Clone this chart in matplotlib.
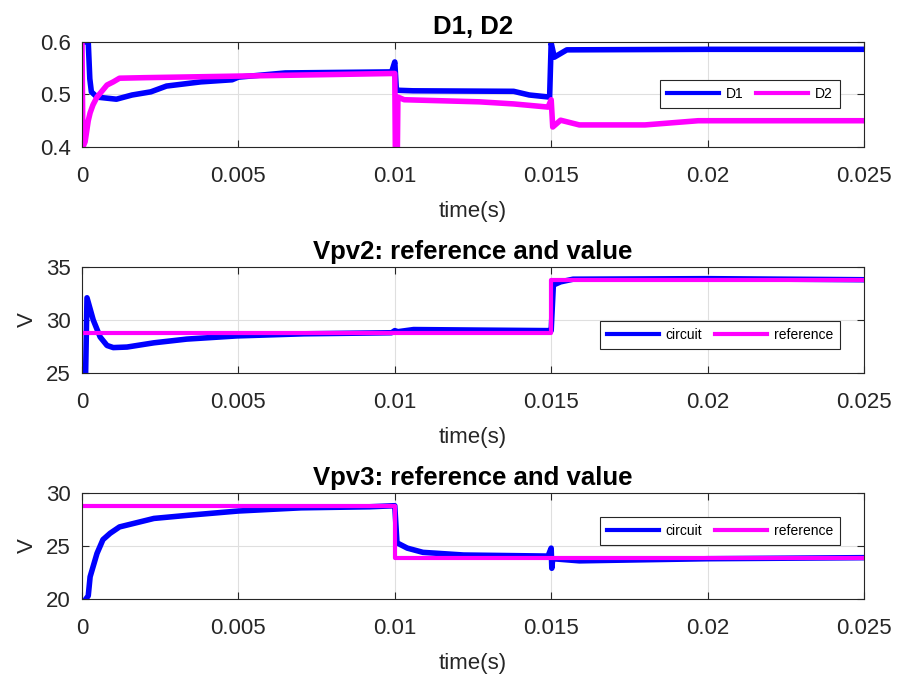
import matplotlib
matplotlib.use("Agg")
import matplotlib.pyplot as plt

# --- data (time in s) ---
D1_T = [0, 0.0002, 0.00025, 0.0003, 0.00048, 0.0011, 0.0016, 0.0022, 0.0027,
        0.0038, 0.0048, 0.005, 0.0065, 0.0099, 0.01, 0.01005, 0.0101, 0.01058,
        0.0138, 0.0143, 0.01495, 0.015, 0.0151, 0.0155, 0.02, 0.025]
D1_V = [0.6, 0.6, 0.53, 0.505, 0.495, 0.491, 0.499, 0.505, 0.516,
        0.524, 0.528, 0.533, 0.541, 0.543, 0.562, 0.51, 0.508, 0.507,
        0.506, 0.499, 0.495, 0.598, 0.571, 0.585, 0.586, 0.586]

D2_T = [0, 0.00003, 0.0001, 0.00015, 0.0002, 0.00026, 0.00035, 0.00048, 0.0008,
        0.001, 0.0012, 0.002, 0.004, 0.006, 0.008, 0.00995, 0.01, 0.01002,
        0.01008, 0.0101, 0.0103, 0.0127, 0.0138, 0.0149, 0.015, 0.01505,
        0.0153, 0.0159, 0.018, 0.0197, 0.025]
D2_V = [0.6, 0.4, 0.41, 0.43, 0.45, 0.465, 0.48, 0.495, 0.518,
        0.524, 0.531, 0.532, 0.534, 0.536, 0.538, 0.54, 0.54, 0.38,
        0.38, 0.495, 0.49, 0.486, 0.482, 0.476, 0.49, 0.438,
        0.451, 0.442, 0.442, 0.45, 0.45]

VPV2_T = [0, 0.00011, 0.00016, 0.00036, 0.00058, 0.0008, 0.001, 0.00144, 0.0023,
          0.00335, 0.00495, 0.0071, 0.0099, 0.01, 0.0101, 0.0106, 0.0127, 0.0149,
          0.015, 0.01507, 0.0153, 0.0157, 0.02, 0.025]
VPV2_V = [24, 24, 32.1, 30.0, 28.4, 27.6, 27.4, 27.45, 27.85,
          28.2, 28.5, 28.7, 28.8, 29.0, 28.9, 29.1, 29.05, 29.0,
          29.0, 33.3, 33.6, 33.85, 33.9, 33.8]
VPV2_REF_T = [0, 0.015, 0.015, 0.025]
VPV2_REF_V = [28.8, 28.8, 33.8, 33.8]

VPV3_T = [0, 0.0002, 0.00026, 0.00048, 0.00067, 0.0009, 0.0012, 0.00175, 0.0023,
          0.0034, 0.005, 0.007, 0.0092, 0.01, 0.01007, 0.0104, 0.0109, 0.0122,
          0.0149, 0.015, 0.01502, 0.01505, 0.0159, 0.02, 0.025]
VPV3_V = [19.5, 20.3, 22.1, 24.3, 25.6, 26.2, 26.8, 27.2, 27.6,
          27.9, 28.3, 28.6, 28.7, 28.8, 25.3, 24.8, 24.4, 24.15,
          24.05, 24.8, 22.9, 23.8, 23.6, 23.8, 23.9]
VPV3_REF_T = [0, 0.01, 0.01, 0.025]
VPV3_REF_V = [28.8, 28.8, 23.85, 23.85]

X_TICKS = [0, 0.005, 0.01, 0.015, 0.02, 0.025]
X_LABELS = ["0", "0.005", "0.01", "0.015", "0.02", "0.025"]

BLUE = "#0000ff"
MAGENTA = "#ff00ff"
DARK = "#262626"

plt.rcParams["font.family"] = ["Liberation Sans", "DejaVu Sans"]

fig = plt.figure(figsize=(8.98, 6.77), dpi=100)
ax_top = fig.add_axes([0.0913, 0.7829, 0.8708, 0.1551])
ax_mid = fig.add_axes([0.0913, 0.4490, 0.8708, 0.1566])
ax_bot = fig.add_axes([0.0913, 0.1152, 0.8708, 0.1566])


def style_axes(ax, yticks, ylabels, title, ylabel=None):
    ax.set_xlim(0, 0.025)
    ax.set_xticks(X_TICKS)
    ax.set_xticklabels(X_LABELS)
    ax.set_ylim(yticks[0], yticks[-1])
    ax.set_yticks(yticks)
    ax.set_yticklabels(ylabels)
    ax.grid(True, color="#dfdfdf", linewidth=0.8)
    ax.set_axisbelow(True)
    ax.tick_params(direction="in", length=5, width=0.8, top=True, right=True,
                   labelsize=16, colors=DARK)
    ax.tick_params(axis="x", pad=14)
    ax.tick_params(axis="y", pad=8)
    for s in ax.spines.values():
        s.set_color(DARK)
        s.set_linewidth(0.8)
    ax.set_xlabel("time(s)", fontsize=16, color=DARK, labelpad=10)
    if ylabel:
        ax.set_ylabel(ylabel, fontsize=16, color=DARK, labelpad=6)
    ax.set_title(title, fontsize=18.5, fontweight="bold", pad=5.5)


def add_legend(ax, y_top):
    leg = ax.legend(loc="upper right", bbox_to_anchor=(0.9693, y_top),
                    borderaxespad=0, ncol=2, fontsize=10, handlelength=3.75,
                    handletextpad=0.5, columnspacing=0.9, borderpad=0.5,
                    fancybox=False, framealpha=1, edgecolor=DARK)
    leg.get_frame().set_linewidth(0.8)
    for line in leg.get_lines():
        line.set_linewidth(3)


ax_top.plot(D1_T, D1_V, color=BLUE, linewidth=4, label="D1")
ax_top.plot(D2_T, D2_V, color=MAGENTA, linewidth=4, label="D2")
style_axes(ax_top, [0.4, 0.5, 0.6], ["0.4", "0.5", "0.6"], "D1, D2")
add_legend(ax_top, 0.638)

ax_mid.plot(VPV2_T, VPV2_V, color=BLUE, linewidth=4, label="circuit")
ax_mid.plot(VPV2_REF_T, VPV2_REF_V, color=MAGENTA, linewidth=3, label="reference")
style_axes(ax_mid, [25, 30, 35], ["25", "30", "35"],
           "Vpv2: reference and value", ylabel="V")
add_legend(ax_mid, 0.4906)

ax_bot.plot(VPV3_T, VPV3_V, color=BLUE, linewidth=4, label="circuit")
ax_bot.plot(VPV3_REF_T, VPV3_REF_V, color=MAGENTA, linewidth=3, label="reference")
style_axes(ax_bot, [20, 25, 30], ["20", "25", "30"],
           "Vpv3: reference and value", ylabel="V")
add_legend(ax_bot, 0.7736)

fig.savefig("out.png", dpi=100)
